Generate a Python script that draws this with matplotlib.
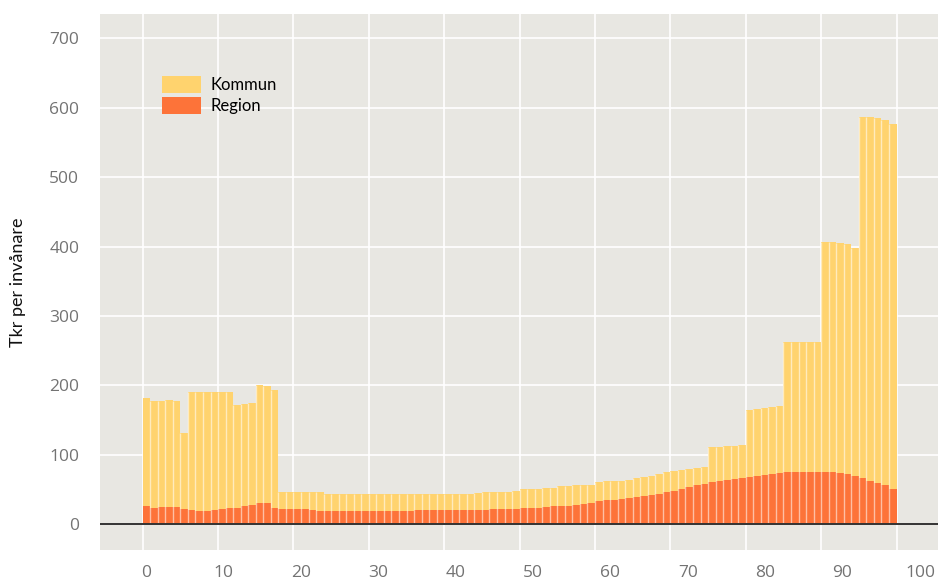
import matplotlib.pyplot as plt
import numpy as np

# age 0..99, values (tkr per invånare)
ages = list(range(100))

total = [182, 178, 178, 179, 178, 131, 191, 190, 190, 190,
         190, 191, 172, 173, 175, 201, 199, 193, 46, 46,
         46, 46, 46, 46, 44, 44, 44, 44, 44, 44,
         44, 44, 44, 44, 44, 44, 44, 44, 44, 44,
         44, 44, 44, 44, 45, 47, 47, 47, 47, 48,
         51, 51, 51, 52, 52, 55, 55, 56, 56, 57,
         61, 62, 62, 63, 64, 67, 68, 70, 73, 75,
         77, 78, 80, 81, 83, 112, 112, 113, 113, 114,
         165, 166, 168, 169, 170, 263, 263, 263, 262, 262,
         406, 406, 405, 404, 398, 587, 587, 585, 582, 577]

region = [26, 23, 24.5, 25.5, 24.5, 22, 20.5, 19, 19, 20.5,
          21.5, 23, 24, 26, 28, 30, 30, 24, 21.5, 21.5,
          21.5, 21.5, 21, 19, 18.5, 18.5, 18.5, 18.5, 19, 19,
          19, 19, 19.5, 19.5, 19.5, 19.5, 20, 20, 20, 20.5,
          20.5, 20.5, 20.5, 20.5, 21, 21, 21.5, 22, 22, 22.5,
          23, 23.5, 24, 25, 26, 26.5, 27, 27.5, 29, 31,
          33, 34.5, 35.5, 37, 38, 39.5, 40.5, 42, 44, 46,
          48, 50.5, 53.5, 56, 58.5, 60.5, 62, 63.5, 65, 66.5,
          68, 70, 71.5, 73, 74, 75.5, 76, 76, 76, 76,
          75.5, 75, 73.5, 72, 69, 66, 63, 60, 56, 51]

series_labels = ["Kommun", "Region"]
x_ticks = list(range(0, 101, 10))
y_ticks = list(range(0, 701, 100))

plt.rcParams['font.family'] = ['Lato', 'DejaVu Sans']
tick_font = ['Open Sans', 'DejaVu Sans']

fig = plt.figure(figsize=(9.38, 5.81), dpi=100)
ax = fig.add_axes([100 / 938, 31 / 581, 838 / 938, 536 / 581])
ax.set_facecolor('#e8e7e2')

kommun = np.array(total) - np.array(region)
ax.bar(ages, region, width=1.0, align='edge', color='#fd7339', zorder=2, label=series_labels[1])
ax.bar(ages, kommun, bottom=region, width=1.0, align='edge', color='#ffd36e', zorder=2, label=series_labels[0])
# pale separators between the single-year bars
ax.vlines(ages[1:], 0, total[1:], color='white', alpha=0.55, lw=1.0, zorder=2.5)

ax.axhline(0, color='#333333', lw=1.4, zorder=3)

ax.set_xlim(-5.66, 105.5)
ax.set_ylim(-37, 735)
ax.set_xticks(x_ticks)
ax.set_yticks(y_ticks)
ax.grid(True, color='white', lw=1.2, zorder=0)
ax.set_axisbelow(True)
for s in ax.spines.values():
    s.set_visible(False)
ax.tick_params(length=0)
ax.tick_params(axis='x', labelbottom=False)
ax.tick_params(axis='y', pad=15, labelsize=12.5, labelcolor='#737373')
for t in ax.get_yticklabels():
    t.set_family(tick_font)

# x labels sit on a slightly wider scale than the grid in the original
sec = ax.secondary_xaxis('bottom', functions=(lambda v: 0.974 * v - 0.426,
                                              lambda v: (v + 0.426) / 0.974))
sec.set_xticks(x_ticks)
sec.tick_params(length=0, pad=11, labelsize=12.5, labelcolor='#737373')
for t in sec.get_xticklabels():
    t.set_family(tick_font)
sec.spines['bottom'].set_visible(False)

ax.set_ylabel("Tkr per invånare", fontsize=13, color='#111111')
ax.yaxis.set_label_coords(-0.088, 0.5)

# legend: Kommun on top
h, l = ax.get_legend_handles_labels()
ax.legend(h[::-1], l[::-1], loc='upper left', bbox_to_anchor=(0.074, 0.884),
          frameon=False, fontsize=12, handlelength=2.34, handleheight=1.2,
          handletextpad=0.55, labelspacing=0.2, borderpad=0, borderaxespad=0)

fig.savefig('out.png', dpi=100)
